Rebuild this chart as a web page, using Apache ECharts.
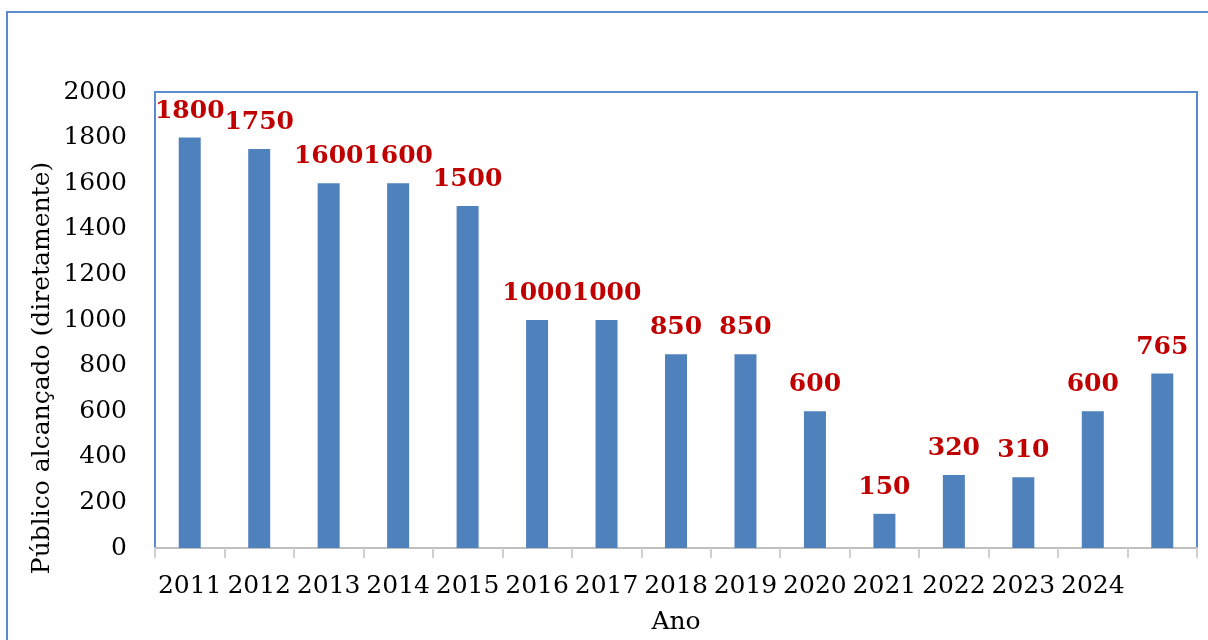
<!DOCTYPE html>
<html>
<head>
<meta charset="utf-8">
<script src="https://cdn.jsdelivr.net/npm/echarts@6/dist/echarts.min.js"></script>
<style>
  html, body { margin: 0; padding: 0; background: #fff; }
  #chart { width: 1208px; height: 640px; }
</style>
</head>
<body>
<div id="chart"></div>
<script>
// categories (the last bar has no label in the original)
const anos = ['2011', '2012', '2013', '2014', '2015', '2016', '2017', '2018', '2019', '2020', '2021', '2022', '2023', '2024', '']
const publico = [1800, 1750, 1600, 1600, 1500, 1000, 1000, 850, 850, 600, 150, 320, 310, 600, 765]

const serif = 'DejaVu Serif'
const blue = '#4F81BD'

const chart = echarts.init(document.getElementById('chart'))

const option = {
  animation: false,
  grid: {
    left: 155,
    right: 11,
    top: 92,
    bottom: 88,
    show: true,
    borderColor: '#5B8BC8',
    borderWidth: 2
  },
  graphic: [
    {
      // outer chart frame
      type: 'rect',
      shape: { x: 7, y: 12, width: 1400, height: 800 },
      style: { fill: null, stroke: '#5B8BC8', lineWidth: 2 },
      silent: true
    },
    {
      type: 'text',
      x: 42,
      y: 368,
      rotation: Math.PI / 2,
      style: {
        text: 'Público alcançado (diretamente)',
        font: '25px "DejaVu Serif"',
        fill: '#000',
        align: 'center',
        verticalAlign: 'middle'
      }
    }
  ],
  xAxis: {
    type: 'category',
    data: anos,
    name: 'Ano',
    nameLocation: 'middle',
    nameGap: 62,
    nameTextStyle: { fontFamily: serif, fontSize: 25, color: '#000' },
    axisLine: { show: true, lineStyle: { color: '#BFBFBF', width: 2 } },
    axisTick: { show: true, length: 10, lineStyle: { color: '#D0D0D0', width: 2 } },
    axisLabel: { interval: 0, margin: 26, fontFamily: serif, fontSize: 25, color: '#000' }
  },
  yAxis: {
    type: 'value',
    min: 0,
    max: 2000,
    interval: 200,
    splitLine: { show: false },
    axisLine: { show: true, lineStyle: { color: '#5B8BC8', width: 2 } },
    axisTick: { show: false },
    axisLabel: {
      margin: 28,
      fontFamily: serif,
      fontSize: 25,
      color: '#000',
      formatter: v => String(v)
    }
  },
  series: [
    {
      type: 'bar',
      data: publico,
      barWidth: 22,
      itemStyle: { color: blue },
      label: {
        show: true,
        position: 'top',
        distance: 14,
        fontFamily: serif,
        fontWeight: 'bold',
        fontSize: 25,
        color: '#C00000'
      }
    }
  ]
}

chart.setOption(option)
</script>
</body>
</html>
